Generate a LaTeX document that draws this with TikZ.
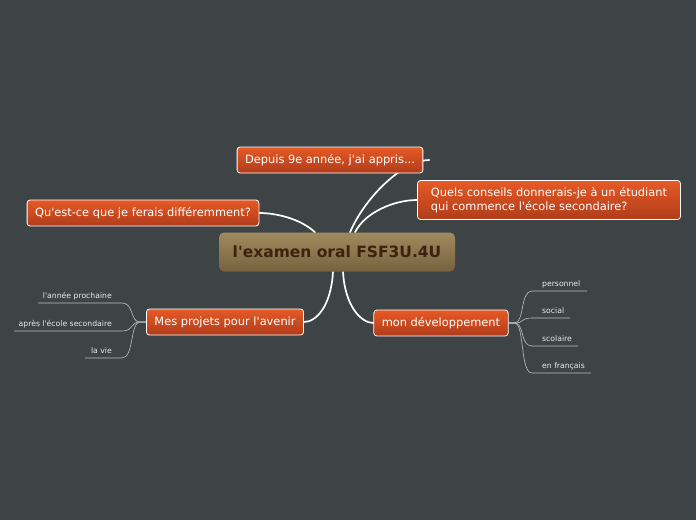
\documentclass[tikz,border=0pt]{standalone}
\usepackage{fontspec}
\setmainfont{DejaVu Sans}[Ligatures=TeXOff]
\usetikzlibrary{positioning}

\definecolor{slate}{RGB}{62,68,70}
\definecolor{rusttop}{RGB}{230,90,38}
\definecolor{rustbot}{RGB}{176,60,26}
\definecolor{mudtop}{RGB}{160,138,94}
\definecolor{mudbot}{RGB}{118,98,62}
\definecolor{mudtext}{RGB}{58,36,16}
\definecolor{twiggray}{RGB}{190,192,192}

\pgfdeclarelayer{bg}
\pgfsetlayers{bg,main}

\begin{document}
\begin{tikzpicture}[x=1pt,y=-1pt,
    topic/.style={rounded corners=3pt, draw=white, line width=0.8pt, top color=rusttop, bottom color=rustbot,
        text=white, font=\fontsize{11.4}{13.5}\selectfont, inner xsep=8pt, minimum height=26pt},
    root/.style={rounded corners=5pt, top color=mudtop, bottom color=mudbot, text=mudtext,
        font=\bfseries\fontsize{15.5}{18}\selectfont, minimum width=236pt, minimum height=39pt},
    leaf/.style={font=\fontsize{7.7}{9}\selectfont, text=white!88!slate, inner sep=0pt},
    branch/.style={draw=white, line width=1.7pt, line cap=round},
    twig/.style={draw=twiggray, line width=0.6pt}
    ]
    \useasboundingbox (0,0) rectangle (696,520);
    \begin{pgfonlayer}{bg}
        \fill[slate] (0,0) rectangle (696,520);
    \end{pgfonlayer}

    % central topic and main branches
    \node[root] (cen) at (337,252) {l'examen oral FSF3U.4U};
    \node[topic] (dep) at (330,160) {Depuis 9e année, j'ai appris...};
    \node[topic, align=left, minimum height=39pt, minimum width=263pt] (qls) at (549,200)
        {Quels conseils donnerais-je à un étudiant\\qui commence l'école secondaire?};
    \node[topic] (que) at (143,213) {Qu'est-ce que je ferais différemment?};
    \node[topic] (mes) at (225,322) {Mes projets pour l'avenir};
    \node[topic] (mon) at (441,323) {mon développement};

    \coordinate (dep-tip) at ([xshift=6pt]dep.east);
    \coordinate (mes-hub) at ([xshift=-6pt]mes.west);
    \coordinate (mon-hub) at ([xshift=6pt]mon.east);

    \begin{pgfonlayer}{bg}
        \draw[branch] ([xshift=-22pt]cen.north) .. controls +(-15,-14) and +(16,0) .. (que.east);
        \draw[branch] ([xshift=13pt]cen.north) .. controls +(16,-37) and +(-25,0) .. (dep-tip);
        \draw[branch] ([xshift=18pt]cen.north) .. controls +(10,-20) and +(-23,0) .. (qls.west);
        \draw[branch] ([xshift=-4pt]cen.south) .. controls +(-2,35) and +(12,0) .. (mes.east);
        \draw[branch] ([xshift=6pt]cen.south) .. controls +(2,35) and +(-12,0) .. (mon.west);
    \end{pgfonlayer}

    % left leaves
    \foreach \ty/\tx/\tl [count=\i] in {303/{l'année prochaine}/38, 331/{après l'école secondaire}/14, 358/{la vie}/85} {
        \coordinate (La\i) at (122,\ty);
        \coordinate (Lb\i) at (\tl,\ty);
        \node[leaf, anchor=base east] (lt\i) at (112,\ty-5) {\tx};
        \begin{pgfonlayer}{bg}
            \draw[twig] (mes.west) -- (mes-hub) .. controls +(-10,0) and +(12,0) .. (La\i) -- (Lb\i);
        \end{pgfonlayer}
    }

    % right leaves
    \foreach \ty/\tx/\tl [count=\i] in {291/personnel/587, 318/social/570, 346/scolaire/578, 373/{en français}/591} {
        \coordinate (Ra\i) at (532,\ty);
        \coordinate (Rb\i) at (\tl,\ty);
        \node[leaf, anchor=base west] (rt\i) at (542,\ty-5) {\tx};
        \begin{pgfonlayer}{bg}
            \draw[twig] (mon.east) -- (mon-hub) .. controls +(10,0) and +(-12,0) .. (Ra\i) -- (Rb\i);
        \end{pgfonlayer}
    }
\end{tikzpicture}
\end{document}
